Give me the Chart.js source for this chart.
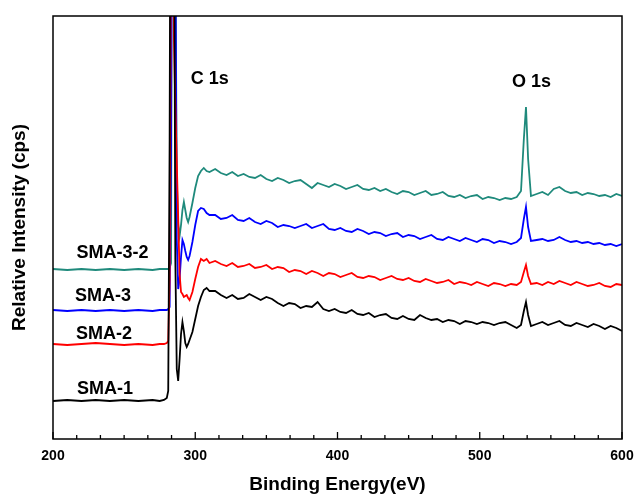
<!DOCTYPE html>
<html>
<head>
<meta charset="utf-8">
<script src="https://cdn.jsdelivr.net/npm/chart.js@4/dist/chart.umd.min.js"></script>
<style>
  html, body { margin: 0; padding: 0; background: #fff; }
  canvas { display: block; }
</style>
</head>
<body>
<canvas id="xps" width="638" height="496"></canvas>
<script>
// Espectros XPS (survey) de las muestras SMA, desplazados verticalmente.
// Intensidad en unidades arbitrarias (el eje Y no lleva escala).

const energy = [
  200, 210, 220, 230, 240, 250, 260, 270, 275, 278, 280,
  281, 282, 283, 284, 285, 286, 287, 288, 289, 290, 291, 292, 293, 294, 295, 296,
  298, 300, 302, 304, 306, 308, 310,
  314, 318, 322, 326, 330, 334, 338, 342, 346, 350, 354, 358, 362, 366, 370, 374, 378, 382,
  386, 390, 394, 398, 402, 406, 410, 414, 418, 422, 426, 430, 434, 438, 442, 446, 450, 454,
  458, 462, 466, 470, 474, 478, 482, 486, 490, 494, 498, 502, 506, 510, 514, 518, 522, 526,
  529, 531, 532.5, 534, 536,
  540, 544, 548, 552, 556, 560, 564, 568, 572, 576, 580, 584, 588, 592, 596, 600,
];

const sma1 = [
  38, 39, 38, 39, 38, 39, 38, 39, 38, 39, 41,
  48, 300, 800, 900, 600, 180, 70, 58, 80, 105, 117, 108, 96, 92, 95, 99,
  107, 120, 133, 142, 149, 151, 148,
  148, 144, 141, 144, 140, 141, 145, 142, 139, 142, 140, 136, 133, 136, 135, 131, 133, 132,
  137, 130, 128, 130, 127, 126, 129, 125, 124, 126, 122, 124, 125, 121, 120, 123, 120, 119,
  124, 121, 119, 120, 117, 119, 118, 115, 118, 117, 115, 117, 116, 114, 116, 117, 114, 111,
  114, 128, 137, 124, 113,
  115, 117, 114, 116, 118, 114, 113, 116, 114, 112, 115, 113, 110, 113, 111, 108,
];

const sma2 = [
  95, 94, 95, 96, 95, 94, 95, 94, 95, 95, 96,
  98, 160, 550, 750, 400, 333, 277, 221, 165, 147, 145, 142, 143, 144, 141, 139,
  147, 160, 172, 180, 178, 180, 176,
  178, 175, 173, 176, 172, 173, 175, 171, 172, 174, 170, 172, 171, 167, 169, 168, 165, 168,
  166, 163, 166, 165, 162, 164, 166, 162, 161, 163, 162, 159, 161, 163, 160, 159, 161, 158,
  157, 160, 158, 156, 157, 159, 155, 157, 156, 154, 157, 155, 153, 156, 155, 153, 155, 154,
  157, 167, 174, 163, 155,
  156, 154, 157, 155, 158, 156, 154, 157, 155, 153, 154, 156, 153, 152, 155, 154,
];

const sma3 = [
  129, 128, 129, 128, 129, 128, 129, 128, 129, 129, 129,
  130, 132, 300, 800, 900, 500, 200, 150, 160, 182, 199, 195, 188, 182, 179, 183,
  197, 214, 228, 231, 230, 226, 224,
  224, 220, 221, 224, 219, 218, 221, 217, 215, 218, 216, 212, 214, 213, 211, 213, 215, 211,
  213, 215, 210, 209, 211, 208, 207, 210, 208, 205, 207, 206, 203, 205, 206, 202, 204, 203,
  200, 202, 204, 200, 199, 202, 200, 198, 201, 199, 197, 200, 199, 196, 198, 197, 195, 197,
  201, 220, 232, 212, 198,
  199, 200, 198, 199, 202, 199, 197, 198, 196, 197, 195, 196, 194, 195, 193, 195,
];

const sma32 = [
  170, 169, 170, 169, 170, 169, 170, 169, 170, 170, 170,
  170, 171, 176, 800, 900, 500, 260, 215, 203, 214, 229, 237, 229, 221, 217, 222,
  236, 251, 263, 268, 271, 268, 267,
  270, 266, 264, 267, 263, 265, 262, 261, 264, 260, 258, 261, 259, 256, 258, 259, 255, 251,
  256, 254, 252, 255, 253, 250, 252, 254, 250, 249, 251, 248, 250, 247, 245, 248, 247, 244,
  246, 248, 244, 245, 247, 243, 242, 244, 241, 243, 244, 240, 242, 241, 239, 241, 240, 242,
  248, 300, 332, 280, 243,
  245, 247, 244, 250, 252, 248, 246, 247, 244, 246, 245, 243, 244, 242, 245, 243,
];

const seriesNames = ['SMA-1', 'SMA-2', 'SMA-3', 'SMA-3-2'];
const seriesValues = [sma1, sma2, sma3, sma32];
const seriesColors = ['#000000', '#ff0000', '#0000ff', '#1f8a7c'];

const xMajorTicks = [200, 300, 400, 500, 600];
const xMinorDivisions = 6;

// textos dentro del gráfico, en coordenadas de datos
const annotations = [
  { text: 'SMA-3-2', x: 241.8, y: 186 },
  { text: 'SMA-3', x: 235.1, y: 143 },
  { text: 'SMA-2', x: 235.9, y: 105 },
  { text: 'SMA-1', x: 236.6, y: 50 },
  { text: 'C 1s', x: 310.2, y: 360 },
  { text: 'O 1s', x: 536.4, y: 357 },
];

const FONT = '"Liberation Sans", Arial, Helvetica, sans-serif';

function buildXTicks() {
  const ticks = [];
  for (let i = 0; i < xMajorTicks.length; i++) {
    ticks.push({ value: xMajorTicks[i], major: true });
    if (i < xMajorTicks.length - 1) {
      const step = (xMajorTicks[i + 1] - xMajorTicks[i]) / xMinorDivisions;
      for (let k = 1; k < xMinorDivisions; k++) {
        ticks.push({ value: xMajorTicks[i] + k * step, major: false });
      }
    }
  }
  return ticks;
}

const frame = {
  id: 'frame',
  afterDatasetsDraw(chart) {
    const { ctx, chartArea: a, scales } = chart;
    ctx.save();
    ctx.strokeStyle = '#000';
    ctx.lineWidth = 1.5;
    ctx.strokeRect(a.left, a.top, a.right - a.left, a.bottom - a.top);

    // marcas del eje X hacia dentro
    ctx.lineWidth = 1.3;
    ctx.beginPath();
    scales.x.ticks.forEach((t) => {
      const px = scales.x.getPixelForValue(t.value);
      const len = t.major ? 7 : 4;
      ctx.moveTo(px, a.bottom);
      ctx.lineTo(px, a.bottom - len);
    });
    ctx.stroke();

    ctx.fillStyle = '#000';
    ctx.font = 'bold 18px ' + FONT;
    ctx.textAlign = 'center';
    ctx.textBaseline = 'middle';
    annotations.forEach((n) => {
      ctx.fillText(n.text, scales.x.getPixelForValue(n.x), scales.y.getPixelForValue(n.y));
    });
    ctx.restore();
  },
};

new Chart(document.getElementById('xps'), {
  type: 'line',
  data: {
    datasets: seriesNames.map((name, s) => ({
      label: name,
      data: energy.map((e, i) => ({ x: e, y: seriesValues[s][i] })),
      borderColor: seriesColors[s],
      borderWidth: 1.8,
      pointRadius: 0,
      tension: 0,
      fill: false,
    })),
  },
  options: {
    responsive: false,
    animation: false,
    layout: { padding: { left: 0, right: 16, top: 16, bottom: 0 } },
    plugins: { legend: { display: false }, tooltip: { enabled: false } },
    scales: {
      x: {
        type: 'linear',
        min: 200,
        max: 600,
        afterBuildTicks: (scale) => { scale.ticks = buildXTicks(); },
        afterFit: (scale) => {
          scale.height = 57;
          scale.paddingLeft = 0;
          scale.paddingRight = 0;
        },
        grid: { display: false, drawTicks: false },
        border: { display: false },
        ticks: {
          autoSkip: false,
          maxRotation: 0,
          padding: 9,
          color: '#000',
          font: { family: FONT, size: 14, weight: 'bold' },
          callback: (v) => (xMajorTicks.includes(v) ? String(v) : ''),
        },
        title: {
          display: true,
          text: 'Binding Energy(eV)',
          color: '#000',
          padding: { top: 0, bottom: 0 },
          font: { family: FONT, size: 19, weight: 'bold' },
        },
      },
      y: {
        min: 0,
        max: 423,
        afterFit: (scale) => { scale.width = 53; },
        grid: { display: false, drawTicks: false },
        border: { display: false },
        ticks: { display: false },
        title: {
          display: true,
          text: 'Relative Intensity (cps)',
          color: '#000',
          padding: { top: 8, bottom: 0 },
          font: { family: FONT, size: 19, weight: 'bold' },
        },
      },
    },
  },
  plugins: [frame],
});
</script>
</body>
</html>
